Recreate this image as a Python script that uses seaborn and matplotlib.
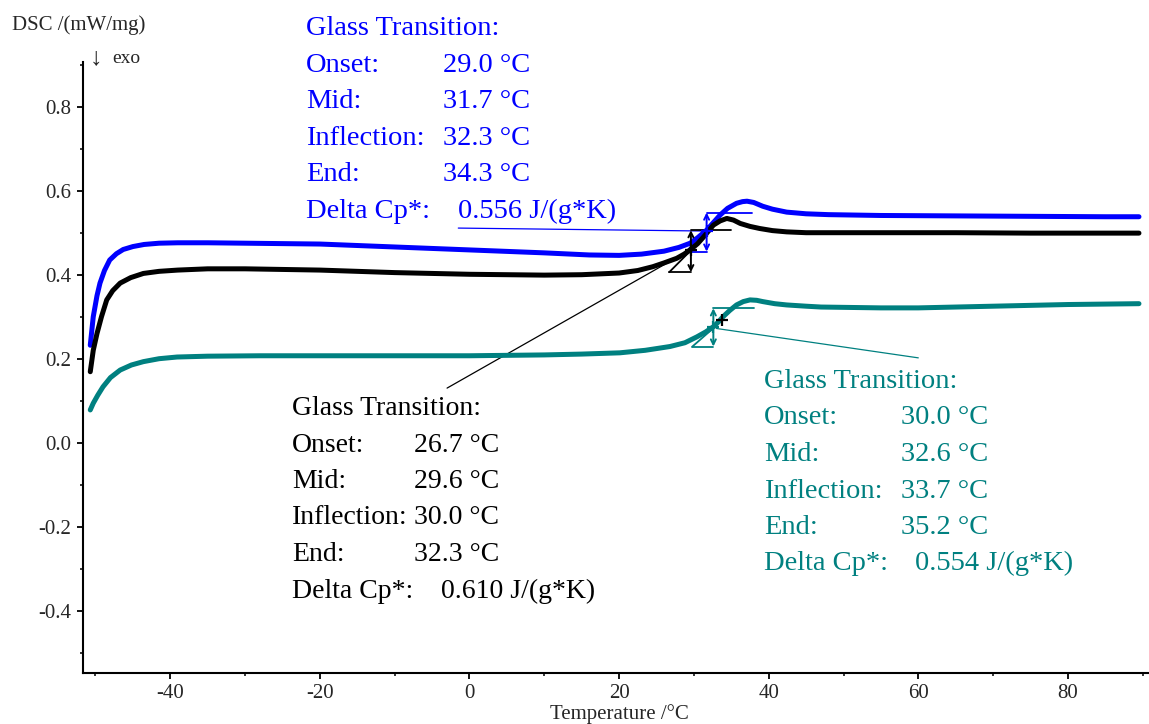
import numpy as np
import pandas as pd
import matplotlib
matplotlib.use("Agg")
import matplotlib.pyplot as plt
from matplotlib.ticker import MultipleLocator
import seaborn as sns

# ---------------- data ----------------
blue_T = [-50.7, -50.3, -49.8, -49.4, -48.8, -48.1, -47.2, -46.3, -45.0, -43.5, -41.5, -39, -35, -30,
          -20, -10, 0, 10, 16, 20, 23, 26, 28, 29.5, 30.5, 31.7, 32.6, 33.5, 34.5, 35.7, 36.5, 37.1,
          38, 39.2, 40.5, 42.4, 45, 48, 55, 65, 75, 85, 89.5]
blue_v = [0.232, 0.30, 0.35, 0.38, 0.41, 0.435, 0.450, 0.460, 0.467, 0.472, 0.475, 0.476, 0.476, 0.475,
          0.473, 0.466, 0.459, 0.452, 0.447, 0.446, 0.449, 0.456, 0.465, 0.475, 0.488, 0.506, 0.524,
          0.542, 0.558, 0.570, 0.574, 0.575, 0.572, 0.563, 0.556, 0.549, 0.545, 0.543, 0.541, 0.540,
          0.539, 0.538, 0.538]

black_T = [-50.7, -50.3, -49.8, -49.2, -48.5, -47.7, -46.7, -45.3, -43.6, -41.5, -39, -35, -30, -20,
           -10, 0, 10, 15, 20, 22.5, 24.5, 26, 27.7, 28.7, 29.5, 30.5, 31.3, 32.0, 32.6, 33.5, 34.4,
           35.3, 36.2, 37.5, 38.8, 40.5, 42.4, 45, 48, 55, 65, 75, 85, 89.5]
black_v = [0.169, 0.22, 0.26, 0.30, 0.34, 0.362, 0.38, 0.393, 0.403, 0.408, 0.411, 0.414, 0.414, 0.411,
           0.405, 0.401, 0.399, 0.400, 0.404, 0.410, 0.419, 0.428, 0.439, 0.449, 0.459, 0.474, 0.49,
           0.505, 0.518, 0.528, 0.534, 0.530, 0.522, 0.515, 0.510, 0.505, 0.502, 0.500, 0.500, 0.500,
           0.500, 0.499, 0.499, 0.499]

teal_T = [-50.7, -50.3, -49.7, -49.0, -48.0, -46.7, -45.2, -43.6, -41.5, -39.1, -35, -28, -20, -10, 0,
          10, 15, 20.1, 23.5, 26.8, 28.8, 30.4, 31.6, 32.6, 33.3, 33.9, 34.8, 35.7, 36.6, 37.5, 38.4,
          39.2, 40.8, 42.4, 45, 47, 55, 60, 70, 80, 89.5]
teal_v = [0.078, 0.094, 0.113, 0.133, 0.155, 0.173, 0.185, 0.193, 0.200, 0.204, 0.206, 0.207, 0.207,
          0.207, 0.207, 0.209, 0.211, 0.214, 0.220, 0.229, 0.238, 0.252, 0.264, 0.276, 0.288, 0.300,
          0.315, 0.328, 0.336, 0.340, 0.339, 0.336, 0.331, 0.328, 0.325, 0.323, 0.321, 0.321, 0.325,
          0.329, 0.331]

# glass transition evaluation marks: (x0, y0, x1, y1)
blue_leader = [-1.5, 0.511, 31.3, 0.504]
black_leader = [-3.0, 0.130, 29.5, 0.459]
teal_leader = [33.0, 0.272, 60.0, 0.202]

blue_arrow = [31.7, 0.455, 0.548]      # x, ybottom, ytop
black_arrow = [29.6, 0.406, 0.506]
teal_arrow = [32.6, 0.229, 0.320]

blue_steps = [[31.7, 37.8, 0.548], [29.4, 31.7, 0.455]]
black_steps = [[29.6, 35.0, 0.506], [26.7, 29.6, 0.406]]
teal_steps = [[32.6, 38.0, 0.320], [29.8, 32.6, 0.229]]

blue_tangent = [29.0, 0.455, 31.7, 0.510]
black_tangent = [26.7, 0.406, 29.6, 0.458]
teal_tangent = [29.8, 0.229, 32.3, 0.268]

cross_T = [29.6, 32.6, 33.7, 31.7]
cross_v = [0.459, 0.276, 0.291, 0.505]
cross_c = ["black", "#008080", "black", "blue"]

blue_text = ["Glass Transition:", "Onset:", "Mid:", "Inflection:", "End:", "Delta Cp*:"]
blue_vals = ["29.0 °C", "31.7 °C", "32.3 °C", "34.3 °C", "0.556 J/(g*K)"]
black_vals = ["26.7 °C", "29.6 °C", "30.0 °C", "32.3 °C", "0.610 J/(g*K)"]
teal_vals = ["30.0 °C", "32.6 °C", "33.7 °C", "35.2 °C", "0.554 J/(g*K)"]

xticks = [-40, -20, 0, 20, 40, 60, 80]
yticks = [-0.4, -0.2, 0.0, 0.2, 0.4, 0.6, 0.8]

# ---------------- figure ----------------
sns.set_style("ticks")
plt.rcParams["font.family"] = ["Liberation Serif", "DejaVu Serif"]

W, H = 1149, 724
fig = plt.figure(figsize=(W / 100, H / 100), dpi=100)
ax = fig.add_axes([82.7 / W, 51 / H, (W - 82.7) / W, 611 / H])

BLUE = "#0000ff"
TEAL = "#008080"

df = pd.concat([
    pd.DataFrame({"T": blue_T, "v": blue_v, "s": "blue"}),
    pd.DataFrame({"T": black_T, "v": black_v, "s": "black"}),
    pd.DataFrame({"T": teal_T, "v": teal_v, "s": "teal"}),
])
sns.lineplot(data=df, x="T", y="v", hue="s", palette={"blue": BLUE, "black": "black", "teal": TEAL},
             sort=False, estimator=None, linewidth=3.6, legend=False, ax=ax, zorder=3)

# evaluation marks
for leader, arrow, steps, tang, c in [
        (blue_leader, blue_arrow, blue_steps, blue_tangent, BLUE),
        (black_leader, black_arrow, black_steps, black_tangent, "black"),
        (teal_leader, teal_arrow, teal_steps, teal_tangent, TEAL)]:
    ax.plot([leader[0], leader[2]], [leader[1], leader[3]], color=c, lw=0.9, zorder=2)
    ax.annotate("", xy=(arrow[0], arrow[1]), xytext=(arrow[0], arrow[2]),
                arrowprops=dict(arrowstyle="<->", color=c, lw=1.4, shrinkA=0, shrinkB=0,
                                mutation_scale=9), zorder=4)
    for s in steps:
        ax.plot([s[0], s[1]], [s[2], s[2]], color=c, lw=1.3, zorder=2)
    ax.plot([tang[0], tang[2]], [tang[1], tang[3]], color=c, lw=1.3, zorder=2)

for t, v, c in zip(cross_T, cross_v, cross_c):
    ax.plot(t, v, marker="+", color=c, markersize=9, mew=1.6, zorder=5)

ax.set_xlim((82.7 - 469.5) / 7.48, (W - 469.5) / 7.48)
ax.set_ylim((442.7 - 673) / 420, (442.7 - 62) / 420)
ax.set_xticks(xticks)
ax.set_yticks(yticks)
ax.set_xticklabels([f"{t:d}" for t in xticks])
ax.set_yticklabels([f"{t:.1f}" for t in yticks])
ax.xaxis.set_minor_locator(MultipleLocator(10))
ax.yaxis.set_minor_locator(MultipleLocator(0.1))
ax.tick_params(which="major", direction="out", length=4, width=1.3, labelsize=15, pad=4, color="black")
ax.tick_params(which="minor", direction="out", length=2.5, width=1.1, color="black")
for sp in ["top", "right"]:
    ax.spines[sp].set_visible(False)
for sp in ["left", "bottom"]:
    ax.spines[sp].set_linewidth(1.5)
    ax.spines[sp].set_color("black")
ax.set_xlabel("")
ax.set_ylabel("")
ax.set_facecolor("white")


def px(x, y):
    return x / W, 1 - y / H


fig.text(*px(12, 30), "DSC /(mW/mg)", fontsize=15, va="baseline", ha="left")
fig.text(*px(90, 64), "↓", fontsize=18, va="baseline", ha="left")
fig.text(*px(112, 63), "exo", fontsize=14, va="baseline", ha="left")
fig.text(*px(619, 719), "Temperature /°C", fontsize=15, va="baseline", ha="center")


def block(x_lab, x_val, x_delta, y0, dy, vals, color, size=20.5):
    fig.text(*px(x_lab, y0), blue_text[0], fontsize=size, color=color, va="baseline")
    for i in range(1, 6):
        y = y0 + i * dy
        fig.text(*px(x_lab, y), blue_text[i], fontsize=size, color=color, va="baseline")
        xv = x_delta if i == 5 else x_val
        fig.text(*px(xv, y), vals[i - 1], fontsize=size, color=color, va="baseline")


block(306, 443, 458, 35, 36.6, blue_vals, BLUE)
block(292, 414, 441, 415, 36.5, black_vals, "black", size=20)
block(764, 901, 915, 388, 36.5, teal_vals, TEAL)

fig.savefig("out.png", dpi=100, facecolor="white")
